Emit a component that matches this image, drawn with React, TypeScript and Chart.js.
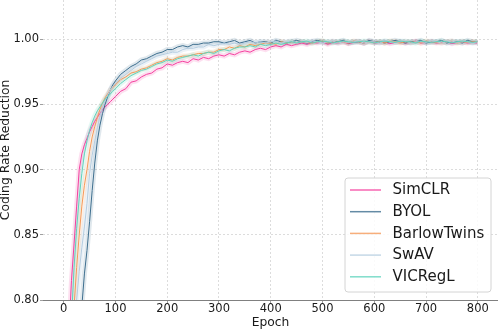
import React, { useEffect, useRef } from "react";
import { Chart, registerables } from "chart.js";
Chart.register(...registerables);

const EPOCHS = [
  0, 5, 10, 15, 20, 25, 30, 35, 40, 45, 50, 55, 60, 65, 70, 75, 80, 85, 90, 95, 100,
  110, 120, 130, 140, 150, 160, 170, 180, 190, 200,
  210, 220, 230, 240, 250, 260, 270, 280, 290, 300,
  310, 320, 330, 340, 350, 360, 370, 380, 390, 400,
  410, 420, 430, 440, 450, 460, 470, 480, 490, 500,
  510, 520, 530, 540, 550, 560, 570, 580, 590, 600,
  610, 620, 630, 640, 650, 660, 670, 680, 690, 700,
  710, 720, 730, 740, 750, 760, 770, 780, 790, 799,
];

const SIMCLR = [
  0.6, 0.7, 0.775, 0.815, 0.843, 0.872, 0.9, 0.912, 0.919, 0.924, 0.929, 0.933, 0.937, 0.94, 0.943, 0.946, 0.948, 0.95, 0.952, 0.954, 0.956,
  0.96, 0.962, 0.967, 0.968, 0.971, 0.973, 0.974, 0.977, 0.978, 0.981,
  0.98, 0.982, 0.983, 0.982, 0.985, 0.984, 0.986, 0.985, 0.987, 0.988,
  0.987, 0.989, 0.988, 0.99, 0.991, 0.99, 0.992, 0.993, 0.992, 0.994,
  0.995, 0.994, 0.996, 0.995, 0.996, 0.997, 0.996, 0.9975, 0.997, 0.998,
  0.996, 0.9975, 0.997, 0.998, 0.9965, 0.9975, 0.998, 0.997, 0.9985, 0.997,
  0.9975, 0.998, 0.9965, 0.9975, 0.998, 0.997, 0.9975, 0.9985, 0.997, 0.9975,
  0.998, 0.997, 0.9975, 0.998, 0.9965, 0.9975, 0.998, 0.997, 0.9975, 0.997,
];

const BYOL = [
  0.4, 0.5, 0.58, 0.64, 0.69, 0.73, 0.765, 0.795, 0.82, 0.838, 0.86, 0.884, 0.905, 0.922, 0.934, 0.943, 0.95, 0.956, 0.961, 0.965, 0.968,
  0.973, 0.976, 0.979, 0.981, 0.984, 0.985, 0.987, 0.989, 0.99, 0.992,
  0.992, 0.994, 0.995, 0.994, 0.996, 0.996, 0.997, 0.997, 0.998, 0.998,
  0.997, 0.998, 0.999, 0.997, 0.998, 0.999, 0.997, 0.998, 0.998, 0.997,
  0.999, 0.998, 0.997, 0.998, 0.999, 0.998, 0.997, 0.998, 0.999, 0.998,
  0.997, 0.998, 0.998, 0.999, 0.997, 0.998, 0.998, 0.997, 0.999, 0.998,
  0.998, 0.997, 0.998, 0.999, 0.998, 0.997, 0.998, 0.998, 0.999, 0.997,
  0.998, 0.998, 0.999, 0.997, 0.998, 0.998, 0.997, 0.999, 0.998, 0.998,
];

const BARLOW = [
  0.5, 0.62, 0.7, 0.76, 0.795, 0.825, 0.85, 0.872, 0.888, 0.9, 0.914, 0.925, 0.933, 0.94, 0.946, 0.951, 0.955, 0.958, 0.961, 0.963, 0.965,
  0.969, 0.971, 0.974, 0.975, 0.977, 0.978, 0.98, 0.982, 0.983, 0.985,
  0.984, 0.986, 0.987, 0.987, 0.988, 0.989, 0.989, 0.99, 0.99, 0.992,
  0.992, 0.994, 0.993, 0.995, 0.994, 0.996, 0.995, 0.996, 0.997, 0.997,
  0.996, 0.998, 0.997, 0.998, 0.997, 0.998, 0.9975, 0.997, 0.998, 0.9985,
  0.997, 0.998, 0.9975, 0.998, 0.997, 0.9985, 0.998, 0.997, 0.998, 0.9975,
  0.998, 0.997, 0.9985, 0.998, 0.997, 0.998, 0.9975, 0.998, 0.997, 0.9985,
  0.998, 0.9975, 0.997, 0.998, 0.9985, 0.997, 0.998, 0.9975, 0.998, 0.998,
];

const SWAV = [
  0.45, 0.57, 0.66, 0.72, 0.765, 0.8, 0.822, 0.84, 0.856, 0.874, 0.897, 0.911, 0.922, 0.932, 0.941, 0.948, 0.953, 0.957, 0.961, 0.964, 0.966,
  0.97, 0.973, 0.976, 0.979, 0.981, 0.983, 0.985, 0.987, 0.988, 0.989,
  0.99, 0.99, 0.992, 0.993, 0.993, 0.994, 0.994, 0.996, 0.995, 0.996,
  0.997, 0.996, 0.997, 0.996, 0.997, 0.998, 0.997, 0.998, 0.997, 0.998,
  0.9985, 0.997, 0.998, 0.9985, 0.997, 0.998, 0.9975, 0.9985, 0.998, 0.997,
  0.998, 0.9985, 0.997, 0.998, 0.9975, 0.998, 0.9985, 0.997, 0.998, 0.998,
  0.997, 0.9985, 0.998, 0.9975, 0.998, 0.9985, 0.997, 0.998, 0.998, 0.9975,
  0.9985, 0.998, 0.997, 0.998, 0.9985, 0.9975, 0.998, 0.998, 0.997, 0.998,
];

const VICREGL = [
  0.55, 0.65, 0.73, 0.785, 0.825, 0.855, 0.878, 0.897, 0.912, 0.922, 0.93, 0.936, 0.941, 0.945, 0.948, 0.951, 0.954, 0.956, 0.958, 0.96, 0.962,
  0.966, 0.969, 0.972, 0.974, 0.976, 0.977, 0.979, 0.981, 0.982, 0.984,
  0.983, 0.985, 0.986, 0.987, 0.988, 0.987, 0.989, 0.99, 0.989, 0.991,
  0.992, 0.991, 0.993, 0.994, 0.994, 0.995, 0.994, 0.996, 0.995, 0.996,
  0.997, 0.996, 0.997, 0.998, 0.997, 0.998, 0.9985, 0.997, 0.998, 0.9985,
  0.998, 0.997, 0.998, 0.9985, 0.998, 0.9975, 0.998, 0.9985, 0.998, 0.997,
  0.998, 0.9985, 0.998, 0.9975, 0.9985, 0.998, 0.998, 0.997, 0.9985, 0.998,
  0.9975, 0.998, 0.9985, 0.998, 0.997, 0.998, 0.9985, 0.998, 0.9975, 0.998,
];

const SERIES_NAMES = ["SimCLR", "BYOL", "BarlowTwins", "SwAV", "VICRegL"];
const SERIES_VALUES = [SIMCLR, BYOL, BARLOW, SWAV, VICREGL];
const SERIES_COLORS = ["#f5409f", "#3d6e8e", "#f59a5a", "#b5cde0", "#5fd3bd"];
const BAND_COLORS = [
  "rgba(245,64,159,0.16)",
  "rgba(61,110,142,0.16)",
  "rgba(245,154,90,0.16)",
  "rgba(181,205,224,0.25)",
  "rgba(95,211,189,0.16)",
];

const X_TICKS = [0, 100, 200, 300, 400, 500, 600, 700, 800];
const Y_TICKS = [0.8, 0.85, 0.9, 0.95, 1.0];

const FONT = "'DejaVu Sans', sans-serif";

const boxLegend = {
  id: "boxLegend",
  afterDatasetsDraw(chart: any) {
    const { ctx, chartArea } = chart;
    const boxW = 146;
    const boxH = 114;
    const x0 = chartArea.right - 7 - boxW;
    const y0 = chartArea.bottom - 8 - boxH;
    ctx.save();
    ctx.beginPath();
    const r = 3;
    ctx.moveTo(x0 + r, y0);
    ctx.lineTo(x0 + boxW - r, y0);
    ctx.arcTo(x0 + boxW, y0, x0 + boxW, y0 + r, r);
    ctx.lineTo(x0 + boxW, y0 + boxH - r);
    ctx.arcTo(x0 + boxW, y0 + boxH, x0 + boxW - r, y0 + boxH, r);
    ctx.lineTo(x0 + r, y0 + boxH);
    ctx.arcTo(x0, y0 + boxH, x0, y0 + boxH - r, r);
    ctx.lineTo(x0, y0 + r);
    ctx.arcTo(x0, y0, x0 + r, y0, r);
    ctx.closePath();
    ctx.fillStyle = "rgba(255,255,255,0.85)";
    ctx.fill();
    ctx.strokeStyle = "#d4d4d4";
    ctx.lineWidth = 1;
    ctx.stroke();
    ctx.font = `15px ${FONT}`;
    ctx.textBaseline = "middle";
    ctx.textAlign = "left";
    SERIES_NAMES.forEach((name, i) => {
      const cy = y0 + 12 + i * 21.7;
      ctx.globalAlpha = 0.8;
      ctx.strokeStyle = SERIES_COLORS[i];
      ctx.lineWidth = 1.5;
      ctx.beginPath();
      ctx.moveTo(x0 + 5, cy);
      ctx.lineTo(x0 + 36, cy);
      ctx.stroke();
      ctx.globalAlpha = 1;
      ctx.fillStyle = "#1a1a1a";
      ctx.fillText(name, x0 + 47.5, cy + 0.5);
    });
    ctx.restore();
  },
};

export default function App() {
  const ref = useRef<HTMLCanvasElement>(null);
  useEffect(() => {
    document.body.style.margin = "0";
    const canvas = ref.current!;
    const datasets: any[] = [];
    SERIES_NAMES.forEach((name, i) => {
      const pts = EPOCHS.map((e, k) => ({ x: e, y: SERIES_VALUES[i][k] }));
      datasets.push({
        label: name + " band",
        data: pts,
        borderColor: BAND_COLORS[i],
        borderWidth: 5,
        pointRadius: 0,
        tension: 0,
        order: 20 - i,
      });
      datasets.push({
        label: name,
        data: pts,
        borderColor: SERIES_COLORS[i],
        borderWidth: 1,
        pointRadius: 0,
        tension: 0,
        order: 10 - i,
      });
    });
    const chart = new Chart(canvas, {
      type: "line",
      data: { datasets },
      plugins: [boxLegend],
      options: {
        animation: false,
        responsive: false,
        layout: { padding: 0 },
        plugins: { legend: { display: false }, tooltip: { enabled: false } },
        scales: {
          x: {
            type: "linear",
            min: -40,
            max: 839,
            afterBuildTicks: (s: any) => {
              s.ticks = X_TICKS.map((v) => ({ value: v }));
            },
            afterFit: (s: any) => {
              s.height = 30;
              s.paddingLeft = 0;
              s.paddingRight = 0;
            },
            grid: { color: "#d3d3d3", lineWidth: 0.8, tickLength: 3, tickColor: "#888" },
            border: { display: true, color: "#808080", width: 1, dash: [2, 2] },
            ticks: {
              padding: -1,
              maxRotation: 0,
              autoSkip: false,
              color: "#1a1a1a",
              font: { family: FONT, size: 11.5 },
              callback: (v: any) => String(v),
            },
            title: {
              display: true,
              text: "Epoch",
              color: "#1a1a1a",
              font: { family: FONT, size: 12.3 },
              padding: 0,
            },
          },
          y: {
            min: 0.8,
            max: 1.03,
            afterBuildTicks: (s: any) => {
              s.ticks = Y_TICKS.map((v) => ({ value: v }));
            },
            afterFit: (s: any) => {
              s.width = 43;
              s.paddingTop = 0;
              s.paddingBottom = 0;
            },
            grid: { color: "#d3d3d3", lineWidth: 0.8, tickLength: 3, tickColor: "#888" },
            border: { display: false, dash: [2, 2] },
            ticks: {
              padding: 1,
              autoSkip: false,
              color: "#1a1a1a",
              font: { family: FONT, size: 11.5 },
              callback: (v: any) => Number(v).toFixed(2),
            },
            title: {
              display: true,
              text: "Coding Rate Reduction",
              color: "#1a1a1a",
              font: { family: FONT, size: 12.3, lineHeight: 1 },
              padding: 0,
            },
          },
        },
      } as any,
    });
    return () => chart.destroy();
  }, []);
  return (
    <div style={{ position: "absolute", left: 0, top: 0, width: 498, height: 330, background: "#fff" }}>
      <canvas ref={ref} width={498} height={330} style={{ display: "block" }} />
    </div>
  );
}
